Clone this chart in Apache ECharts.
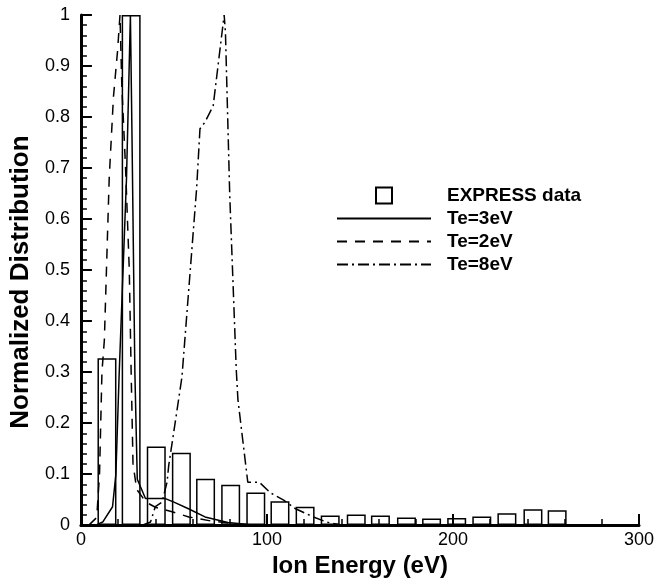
<!DOCTYPE html>
<html>
<head>
<meta charset="utf-8">
<script src="https://cdn.jsdelivr.net/npm/echarts@6/dist/echarts.min.js"></script>
<style>
  html, body { margin: 0; padding: 0; background: #fff; }
  #chart { width: 657px; height: 583px; }
</style>
</head>
<body>
<div id="chart"></div>
<script>
// EXPRESS measured distribution (bar centres in eV, normalized height)
const barEnergy = [14, 27, 40.5, 54, 67, 80.5, 94, 107, 120.5, 134, 148, 161, 175, 188.5, 202, 215.5, 229, 243, 256];
const barValue = [0.327, 1.0, 0.154, 0.142, 0.091, 0.079, 0.064, 0.047, 0.036, 0.019, 0.021, 0.019, 0.015, 0.013, 0.014, 0.017, 0.023, 0.031, 0.029];

// Te = 3 eV model (solid)
const te3Energy = [8, 11.7, 17, 18.8, 20.5, 24.5, 26.6, 27.5, 29, 30.3, 34.7, 45.4, 50, 57.8, 66.7, 79, 90, 100];
const te3Value = [0, 0.006, 0.036, 0.10, 0.29, 0.68, 1.0, 0.75, 0.3, 0.09, 0.052, 0.052, 0.045, 0.032, 0.016, 0.005, 0.001, 0];

// Te = 2 eV model (dashed)
const te2Energy = [4.3, 8.5, 10, 11.3, 12.6, 15.2, 17.5, 19.7, 21, 22, 24, 26, 27, 28, 30, 35, 40, 49, 58, 70, 85, 100];
const te2Value = [0, 0.015, 0.1, 0.3, 0.363, 0.68, 0.84, 0.93, 1.0, 0.86, 0.7, 0.5, 0.3, 0.12, 0.07, 0.045, 0.035, 0.026, 0.016, 0.008, 0.002, 0];

// Te = 8 eV model (dash-dot)
const te8Energy = [33, 37.4, 40, 43.6, 46.3, 47.2, 49.8, 54.3, 62.2, 64, 66.7, 71.1, 77, 77.7, 80, 83.5, 84.4, 89.7, 95.9, 102, 109, 115.4, 125, 132, 140];
const te8Value = [0, 0.006, 0.036, 0.045, 0.084, 0.117, 0.18, 0.29, 0.66, 0.777, 0.79, 0.822, 1.0, 0.965, 0.647, 0.305, 0.246, 0.084, 0.084, 0.063, 0.049, 0.032, 0.016, 0.006, 0];

const pairs = (xs, ys) => xs.map((x, i) => [x, ys[i]]);

const font = "'Liberation Sans', Arial, Helvetica, sans-serif";

const chart = echarts.init(document.getElementById("chart"));

const lineSeries = (name, xs, ys, dash) => ({
  name: name,
  type: "line",
  data: pairs(xs, ys),
  showSymbol: false,
  symbol: "none",
  z: 3,
  lineStyle: { color: "#000", width: 1.5, type: dash },
  itemStyle: { color: "#000" },
  silent: true,
});

// line legend entries: keep the line sample, hide the marker
const lineLegend = name => ({ name: name, itemStyle: { opacity: 0 } });

chart.setOption({
  backgroundColor: "#fff",
  animation: false,
  grid: { left: 79, right: 15, top: 15, bottom: 53 },
  legend: {
    orient: "vertical",
    left: 336,
    top: 186,
    padding: 0,
    itemWidth: 94,
    itemHeight: 16,
    itemGap: 4,
    selectedMode: false,
    textStyle: { fontFamily: font, fontSize: 19, fontWeight: "bold", color: "#000", padding: [0, 0, 0, 11] },
    data: [
      { name: "EXPRESS data", icon: "path://M0,0M94,16M39,0h16v16h-16Z" },
      lineLegend("Te=3eV"),
      lineLegend("Te=2eV"),
      lineLegend("Te=8eV"),
    ],
  },
  xAxis: {
    type: "value",
    min: 0,
    max: 300,
    interval: 100,
    name: "Ion Energy (eV)",
    nameLocation: "middle",
    nameGap: 24,
    nameTextStyle: { fontFamily: font, fontSize: 24, fontWeight: "bold", color: "#000" },
    axisLine: { lineStyle: { color: "#000", width: 3 } },
    axisTick: { inside: true, length: 11, lineStyle: { color: "#000", width: 2 } },
    minorTick: { show: true, splitNumber: 5, length: 6, lineStyle: { color: "#000", width: 1.5 } },
    axisLabel: { fontFamily: font, fontSize: 18, color: "#000", margin: 6 },
    splitLine: { show: false },
  },
  yAxis: {
    type: "value",
    min: 0,
    max: 1,
    interval: 0.1,
    name: "Normalized Distribution",
    nameLocation: "middle",
    nameGap: 35,
    nameTextStyle: { fontFamily: font, fontSize: 26, fontWeight: "bold", color: "#000", padding: [0, 24, 0, 0] },
    axisLine: { show: true, lineStyle: { color: "#000", width: 3 } },
    axisTick: { show: true, inside: true, length: 11, lineStyle: { color: "#000", width: 2 } },
    minorTick: { show: true, splitNumber: 5, length: 6, lineStyle: { color: "#000", width: 1.5 } },
    axisLabel: { fontFamily: font, fontSize: 18, color: "#000", margin: 11 },
    splitLine: { show: false },
  },
  series: [
    {
      name: "EXPRESS data",
      type: "bar",
      data: pairs(barEnergy, barValue),
      barWidth: 19,
      z: 2,
      silent: true,
      itemStyle: { color: "rgba(255,255,255,0)", borderColor: "#000", borderWidth: 1.5 },
    },
    lineSeries("Te=3eV", te3Energy, te3Value, "solid"),
    lineSeries("Te=2eV", te2Energy, te2Value, [10, 8]),
    lineSeries("Te=8eV", te8Energy, te8Value, [11, 4, 2, 4]),
  ],
});
</script>
</body>
</html>
